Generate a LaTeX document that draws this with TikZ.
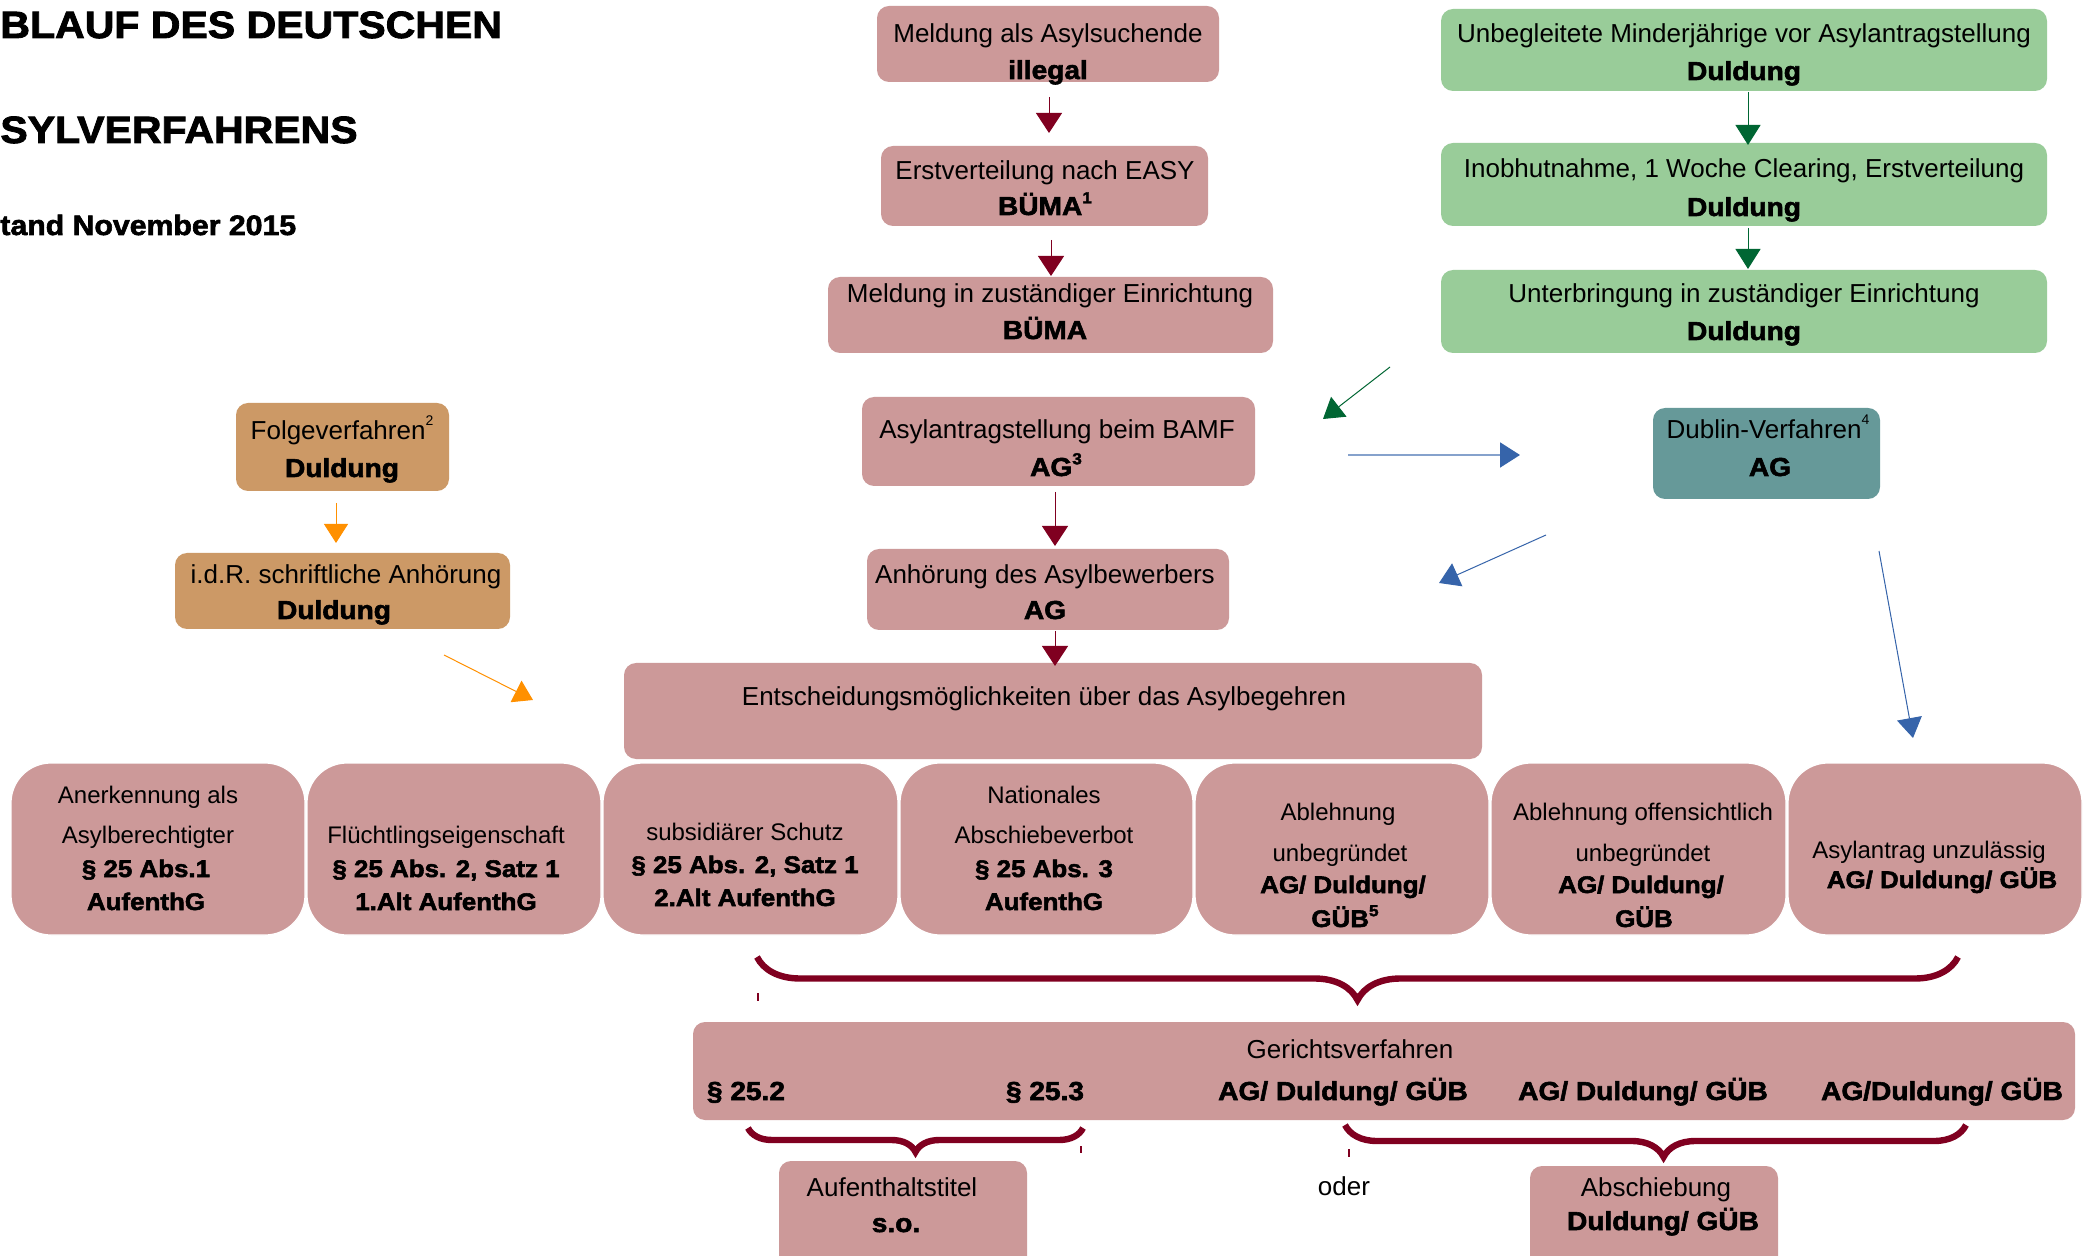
\documentclass[tikz,border=0pt]{standalone}
\usepackage{fontspec}
\setmainfont{Liberation Sans}
\newfontfamily\heavy[FakeBold=2.2,FakeStretch=1.08]{Liberation Sans Bold}
\usetikzlibrary{arrows.meta,decorations.pathreplacing}
\definecolor{pinkbox}{RGB}{204,153,153}
\definecolor{greenbox}{RGB}{153,204,153}
\definecolor{orangebox}{RGB}{204,153,102}
\definecolor{tealbox}{RGB}{102,153,153}
\definecolor{darkred}{RGB}{128,0,32}
\definecolor{darkgreen}{RGB}{0,102,51}
\definecolor{arrorange}{RGB}{255,144,0}
\definecolor{arrblue}{RGB}{54,100,170}
\newcommand{\bbox}[6]{\node[#2, minimum width={(#5-#3)*0.5pt}, minimum height={(#6-#4)*0.5pt}] (#1) at ({(#3+#5)/2},{(#4+#6)/2}) {};}
\newcommand{\hisup}[1]{\raisebox{0.55em}{\fontsize{7pt}{7pt}\selectfont #1}}
\newcommand{\bsup}[1]{\raisebox{0.45em}{\fontsize{8pt}{8pt}\selectfont #1}}
\tikzset{
  basebox/.style={inner sep=0pt, outer sep=0pt, rounded corners=6pt, draw=none},
  pinkb/.style={basebox, fill=pinkbox},
  greenb/.style={basebox, fill=greenbox},
  orangeb/.style={basebox, fill=orangebox},
  tealb/.style={basebox, fill=tealbox},
  rowb/.style={basebox, fill=pinkbox, rounded corners=20pt, draw=white, line width=0.6pt},
  tx/.style={anchor=base, inner sep=0pt, font=\fontsize{13pt}{15pt}\selectfont},
  bx/.style={anchor=base, inner sep=0pt, font=\heavy\fontsize{13pt}{15pt}\selectfont},
  rtx/.style={anchor=base, inner sep=0pt, font=\fontsize{12pt}{14pt}\selectfont},
  rbx/.style={anchor=base, inner sep=0pt, font=\heavy\fontsize{12pt}{14pt}\selectfont},
  ttl/.style={anchor=base west, inner sep=0pt, font=\heavy\fontsize{19pt}{22pt}\selectfont},
  redarr/.style={draw=darkred, line width=0.5pt, -{Triangle[width=13pt,length=10pt,color=darkred]}},
  greenarr/.style={draw=darkgreen, line width=0.5pt, -{Triangle[width=12.5pt,length=10pt,color=darkgreen]}},
  orangearr/.style={draw=arrorange, line width=0.5pt, -{Triangle[width=12pt,length=9.5pt,color=arrorange]}},
  bluearr/.style={draw=arrblue, line width=0.5pt, -{Triangle[width=12.5pt,length=10pt,color=arrblue]}},
  bracestyle/.style={draw=darkred, line width=3.2pt, decorate},
}
\begin{document}
\begin{tikzpicture}[x=0.5pt,y=-0.5pt]
\clip (0,0) rectangle (2094,1256);
\fill[white] (0,0) rectangle (2094,1256);

% title
\node[ttl] (ttl1) at (0,38) {BLAUF DES DEUTSCHEN};
\node[ttl] (ttl2) at (0,143) {SYLVERFAHRENS};
\node[ttl, font=\heavy\fontsize{14pt}{16pt}\selectfont] (ttl3) at (0,235) {tand November 2015};

% central column
\bbox{m1}{pinkb}{877}{6}{1219}{82}
\node[tx] (m1a) at (1048,43) {Meldung als Asylsuchende};
\node[bx] (m1b) at (1048,79) {illegal};
\bbox{m2}{pinkb}{881}{146}{1208}{226}
\node[tx] (m2a) at (1045,180) {Erstverteilung nach EASY};
\node[bx] (m2b) at (1045,215) {BÜMA\bsup{1}};
\bbox{m3}{pinkb}{828}{277}{1273}{353}
\node[tx] (m3a) at (1050,303) {Meldung in zuständiger Einrichtung};
\node[bx] (m3b) at (1045,339) {BÜMA};

% green column
\bbox{g1}{greenb}{1441}{9}{2047}{91}
\node[tx] (g1a) at (1744,43) {Unbegleitete Minderjährige vor Asylantragstellung};
\node[bx] (g1b) at (1744,80) {Duldung};
\bbox{g2}{greenb}{1441}{143}{2047}{226}
\node[tx] (g2a) at (1744,178) {Inobhutnahme, 1 Woche Clearing, Erstverteilung};
\node[bx] (g2b) at (1744,216) {Duldung};
\bbox{g3}{greenb}{1441}{270}{2047}{353}
\node[tx] (g3a) at (1744,303) {Unterbringung in zuständiger Einrichtung};
\node[bx] (g3b) at (1744,340) {Duldung};

% orange column
\bbox{o1}{orangeb}{236}{403}{449}{491}
\node[tx] (o1a) at (342,440) {Folgeverfahren\hisup{2}};
\node[bx] (o1b) at (342,477) {Duldung};
\bbox{o2}{orangeb}{175}{553}{510}{629}
\node[tx] (o2a) at (346,584) {i.d.R. schriftliche Anhörung};
\node[bx] (o2b) at (334,619) {Duldung};

% BAMF, Anhoerung, Dublin
\bbox{b1}{pinkb}{862}{397}{1255}{486}
\node[tx] (b1a) at (1057,439) {Asylantragstellung beim BAMF};
\node[bx] (b1b) at (1056,476) {AG\bsup{3}};
\bbox{b2}{pinkb}{867}{549}{1229}{630}
\node[tx] (b2a) at (1045,584) {Anhörung des Asylbewerbers};
\node[bx] (b2b) at (1045,619) {AG};
\bbox{d1}{tealb}{1653}{408}{1880}{499}
\node[tx] (d1a) at (1768,439) {Dublin-Verfahren\hisup{4}};
\node[bx] (d1b) at (1770,476) {AG};
\bbox{e1}{pinkb}{624}{663}{1482}{759}
\node[tx] (e1a) at (1044,705) {Entscheidungsmöglichkeiten über das Asylbegehren};

% row of decisions
\bbox{r1}{rowb}{11}{763}{305}{935}
\node[rtx] (r1a) at (148,803) {Anerkennung als};
\node[rtx] (r1b) at (148,843) {Asylberechtigter};
\node[rbx] (r1c) at (146,877) {§ 25 Abs.1};
\node[rbx] (r1d) at (146,910) {AufenthG};
\bbox{r2}{rowb}{307}{763}{601}{935}
\node[rtx] (r2a) at (446,843) {Flüchtlingseigenschaft};
\node[rbx] (r2b) at (446,877) {§ 25 Abs. 2, Satz 1};
\node[rbx] (r2c) at (446,910) {1.Alt AufenthG};
\bbox{r3}{rowb}{603}{763}{898}{935}
\node[rtx] (r3a) at (745,840) {subsidiärer Schutz};
\node[rbx] (r3b) at (745,873) {§ 25 Abs. 2, Satz 1};
\node[rbx] (r3c) at (745,906) {2.Alt AufenthG};
\bbox{r4}{rowb}{900}{763}{1193}{935}
\node[rtx] (r4a) at (1044,803) {Nationales};
\node[rtx] (r4b) at (1044,843) {Abschiebeverbot};
\node[rbx] (r4c) at (1044,877) {§ 25 Abs. 3};
\node[rbx] (r4d) at (1044,910) {AufenthG};
\bbox{r5}{rowb}{1195}{763}{1489}{935}
\node[rtx] (r5a) at (1338,820) {Ablehnung};
\node[rtx] (r5b) at (1340,861) {unbegründet};
\node[rbx] (r5c) at (1343,893) {AG/ Duldung/};
\node[rbx] (r5d) at (1345,927) {GÜB\bsup{5}};
\bbox{r6}{rowb}{1491}{763}{1786}{935}
\node[rtx] (r6a) at (1643,820) {Ablehnung offensichtlich};
\node[rtx] (r6b) at (1643,861) {unbegründet};
\node[rbx] (r6c) at (1641,893) {AG/ Duldung/};
\node[rbx] (r6d) at (1644,927) {GÜB};
\bbox{r7}{rowb}{1788}{763}{2082}{935}
\node[rtx] (r7a) at (1929,858) {Asylantrag unzulässig};
\node[rbx] (r7b) at (1942,888) {AG/ Duldung/ GÜB};

% court procedure
\bbox{gv}{pinkb}{693}{1022}{2075}{1120}
\node[tx] (gva) at (1350,1058) {Gerichtsverfahren};
\node[bx] (gvb) at (746,1100) {§ 25.2};
\node[bx] (gvc) at (1045,1100) {§ 25.3};
\node[bx] (gvd) at (1343,1100) {AG/ Duldung/ GÜB};
\node[bx] (gve) at (1643,1100) {AG/ Duldung/ GÜB};
\node[bx] (gvf) at (1942,1100) {AG/Duldung/ GÜB};

% outcomes
\bbox{a1}{pinkb}{779}{1161}{1027}{1290}
\node[tx] (a1a) at (892,1196) {Aufenthaltstitel};
\node[bx] (a1b) at (896,1232) {s.o.};
\node[tx] (oder) at (1344,1195) {oder};
\bbox{a2}{pinkb}{1530}{1166}{1778}{1290}
\node[tx] (a2a) at (1656,1196) {Abschiebung};
\node[bx] (a2b) at (1663,1230) {Duldung/ GÜB};

% arrow end points
\coordinate (ra1) at (1049,97);  \coordinate (rb1) at (1049,133);
\coordinate (ra2) at (1051,240); \coordinate (rb2) at (1051,276);
\coordinate (ra3) at (1055,492); \coordinate (rb3) at (1055,546);
\coordinate (ra4) at (1055,631); \coordinate (rb4) at (1055,666);
\coordinate (ga1) at (1748,92);  \coordinate (gb1) at (1748,145);
\coordinate (ga2) at (1748,228); \coordinate (gb2) at (1748,269);
\coordinate (ga3) at (1390,367); \coordinate (gb3) at (1323,419);
\coordinate (oa1) at (336,503);  \coordinate (ob1) at (336,543);
\coordinate (oa2) at (444,655);  \coordinate (ob2) at (533,700);
\coordinate (ba1) at (1348,455); \coordinate (bb1) at (1520,455);
\coordinate (ba2) at (1546,535); \coordinate (bb2) at (1439,583);
\coordinate (ba3) at (1879,551); \coordinate (bb3) at (1913,738);

\draw[redarr] (ra1) -- (rb1);
\draw[redarr] (ra2) -- (rb2);
\draw[redarr] (ra3) -- (rb3);
\draw[redarr] (ra4) -- (rb4);
\draw[greenarr] (ga1) -- (gb1);
\draw[greenarr] (ga2) -- (gb2);
\draw[greenarr] (ga3) -- (gb3);
\draw[orangearr] (oa1) -- (ob1);
\draw[orangearr] (oa2) -- (ob2);
\draw[bluearr, draw=arrblue!60, line width=1pt] (ba1) -- (bb1);
\draw[bluearr] (ba2) -- (bb2);
\draw[bluearr] (ba3) -- (bb3);

% braces
\coordinate (br1a) at (757,957);  \coordinate (br1b) at (1958,957);
\coordinate (br2a) at (748,1128); \coordinate (br2b) at (1083,1128);
\coordinate (br3a) at (1345,1125); \coordinate (br3b) at (1966,1125);
\draw[bracestyle, decoration={brace, mirror, amplitude=21.5pt}] (br1a) -- (br1b);
\draw[bracestyle, decoration={brace, mirror, amplitude=12pt}] (br2a) -- (br2b);
\draw[bracestyle, decoration={brace, mirror, amplitude=16pt, aspect=0.513}] (br3a) -- (br3b);

% small ticks
\coordinate (tk1a) at (758,993);  \coordinate (tk1b) at (758,1001);
\coordinate (tk2a) at (1081,1146); \coordinate (tk2b) at (1081,1153);
\coordinate (tk3a) at (1349,1149); \coordinate (tk3b) at (1349,1157);
\draw[darkred, line width=0.6pt] (tk1a) -- (tk1b);
\draw[darkred, line width=0.6pt] (tk2a) -- (tk2b);
\draw[darkred, line width=0.6pt] (tk3a) -- (tk3b);
\end{tikzpicture}
\end{document}
